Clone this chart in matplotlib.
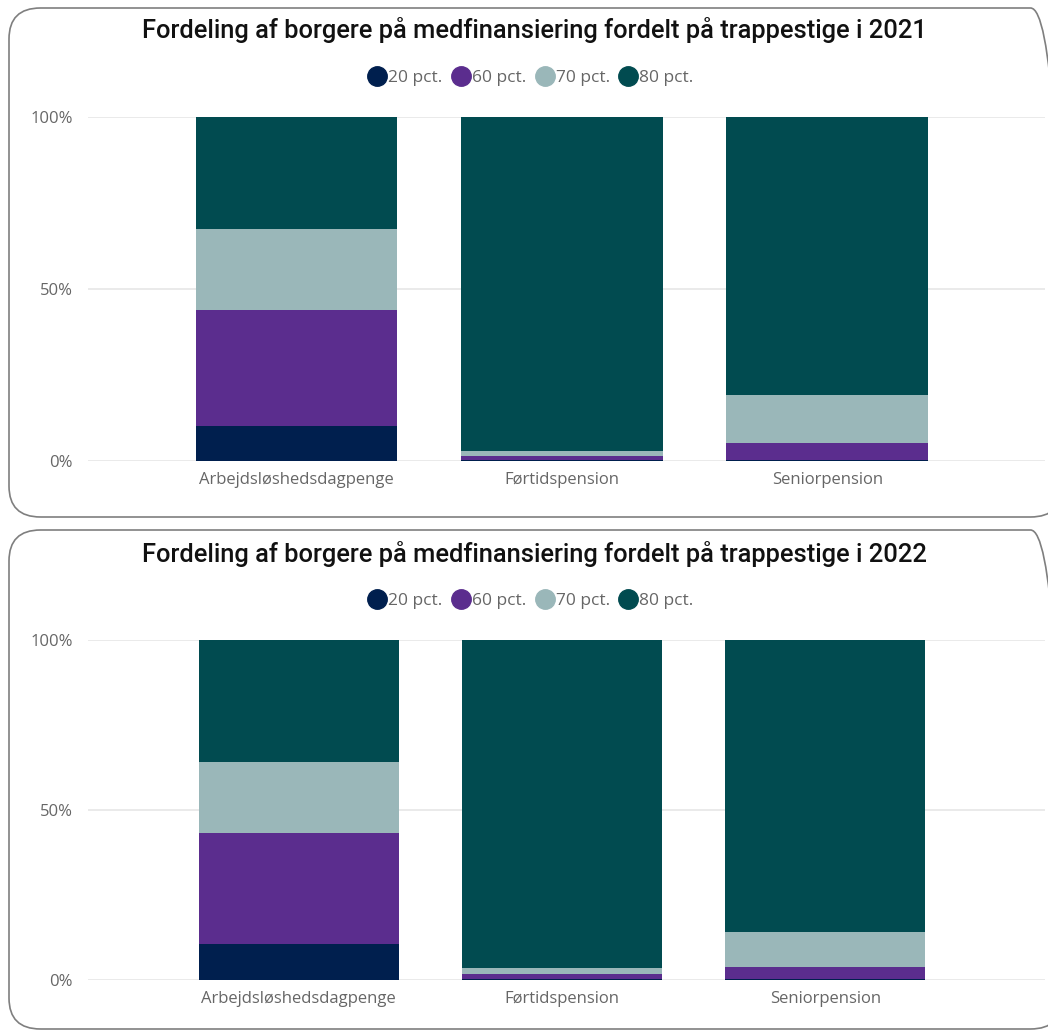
import numpy as np
import matplotlib
matplotlib.use("Agg")
import matplotlib.pyplot as plt
from matplotlib.patches import FancyBboxPatch
from matplotlib.lines import Line2D

categories = ["Arbejdsløshedsdagpenge", "Førtidspension", "Seniorpension"]
series = ["20 pct.", "60 pct.", "70 pct.", "80 pct."]
colors = ["#001F4E", "#5B2D8E", "#9AB7B9", "#014B50"]

# andele i procent, en liste pr. trappetrin (rækkefølge som categories)
y2021_20 = [10.2, 0.3, 0.2]
y2021_60 = [33.7, 1.2, 5.1]
y2021_70 = [23.5, 1.5, 14.0]
y2021_80 = [32.6, 97.0, 80.7]

y2022_20 = [10.6, 0.3, 0.2]
y2022_60 = [32.6, 1.6, 3.5]
y2022_70 = [20.9, 1.5, 10.3]
y2022_80 = [35.9, 96.6, 86.0]

panels = [
    ("Fordeling af borgere på medfinansiering fordelt på trappestige i 2021",
     [y2021_20, y2021_60, y2021_70, y2021_80]),
    ("Fordeling af borgere på medfinansiering fordelt på trappestige i 2022",
     [y2022_20, y2022_60, y2022_70, y2022_80]),
]

W, H = 1048, 1032
fig = plt.figure(figsize=(W / 100, H / 100), dpi=100)
title_font = ["Roboto", "DejaVu Sans"]
label_font = ["Open Sans", "DejaVu Sans"]
grey = "#666666"

# (box top, box bottom, title y, legend y, axes top, axes bottom, xlim) in pixels
layout = [(8, 517, 30, 78, 117, 461, (-0.785, 2.82)),
          (530, 1029, 554, 601, 640, 980, (-0.80, 2.834))]

def fx(px):
    return px / W

def fy(py):
    return 1 - py / H

for (title, vals), (btop, bbot, ty, ly, atop, abot, xlim) in zip(panels, layout):
    box = FancyBboxPatch((fx(9), fy(bbot)), fx(1062) - fx(9), fy(btop) - fy(bbot),
                         boxstyle="round,pad=0,rounding_size=0.03",
                         transform=fig.transFigure, facecolor="none",
                         edgecolor="#7f7f7f", linewidth=1.2, zorder=-1)
    fig.patches.append(box)

    fig.text(fx(534), fy(ty), title, ha="center", va="center",
             fontsize=18.4, family=title_font, weight="medium", color="#111111")

    ax = fig.add_axes([fx(88), fy(abot), fx(1045) - fx(88), fy(atop) - fy(abot)])
    ax.patch.set_visible(False)
    x = np.arange(len(categories))
    bottom = np.zeros(len(categories))
    for name, v, c in zip(series, vals, colors):
        ax.bar(x, v, width=0.76, bottom=bottom, color=c, label=name, zorder=3)
        bottom += np.array(v)

    ax.set_xlim(*xlim)
    ax.set_ylim(0, 100)
    ax.set_yticks([0, 50, 100])
    ax.set_yticklabels(["0%", "50%", "100%"])
    ax.set_xticks(x)
    ax.set_xticklabels(categories)
    for lab in ax.get_xticklabels() + ax.get_yticklabels():
        lab.set_family(label_font)
        lab.set_fontsize(12)
        lab.set_color(grey)
    ax.tick_params(length=0, pad=8)
    ax.tick_params(axis="y", pad=11)
    ax.grid(axis="y", color="#e6e6e6", linewidth=1.2, zorder=0)
    for s in ax.spines.values():
        s.set_visible(False)

    handles = [Line2D([], [], marker="o", linestyle="", markersize=14,
                      markerfacecolor=c, markeredgecolor=c) for c in colors]
    leg = fig.legend(handles, series, loc="center", bbox_to_anchor=(fx(531), fy(ly)),
                     ncol=4, frameon=False, handletextpad=0.15, columnspacing=0.55,
                     prop={"family": label_font, "size": 12.5}, handlelength=1.0)
    for t in leg.get_texts():
        t.set_color(grey)

fig.savefig("out.png", dpi=100)
